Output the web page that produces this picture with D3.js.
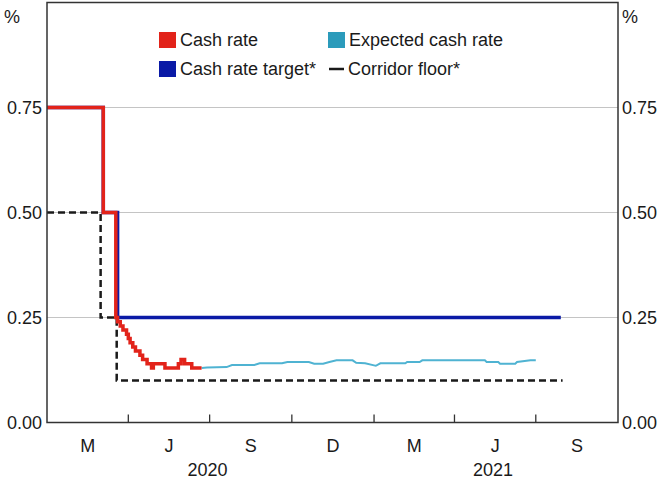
<!DOCTYPE html>
<html>
<head>
<meta charset="utf-8">
<script src="https://cdn.jsdelivr.net/npm/d3@7"></script>
<style>
  html, body { margin: 0; padding: 0; background: #ffffff; }
  svg text { font-family: "Liberation Sans", Arial, sans-serif; fill: #1a1a1a; }
</style>
</head>
<body>
<div id="chart"></div>
<script>
// Cash rate (actual), step series
const cashDates = ['2020-01-01', '2020-03-04', '2020-03-18', '2020-03-20', '2020-03-23', '2020-03-26', '2020-03-30',
  '2020-04-01', '2020-04-03', '2020-04-06', '2020-04-09', '2020-04-14', '2020-04-17', '2020-04-22', '2020-04-27',
  '2020-04-29', '2020-05-12', '2020-05-27', '2020-05-30', '2020-06-03', '2020-06-11', '2020-06-22'];
const cashValues = [0.75, 0.50, 0.25, 0.24, 0.23, 0.22, 0.21,
  0.20, 0.19, 0.18, 0.17, 0.16, 0.15, 0.14, 0.13,
  0.14, 0.13, 0.14, 0.15, 0.14, 0.13, 0.13];

// Expected cash rate
const expDates = ['2020-06-22', '2020-06-28', '2020-07-20', '2020-07-26', '2020-08-20', '2020-08-26', '2020-09-20',
  '2020-09-26', '2020-10-20', '2020-10-26', '2020-11-05', '2020-11-12', '2020-11-20', '2020-12-08', '2020-12-12',
  '2020-12-22', '2021-01-01', '2021-01-03', '2021-01-08', '2021-02-05', '2021-02-07', '2021-02-21', '2021-02-24',
  '2021-05-05', '2021-05-07', '2021-05-20', '2021-05-22', '2021-06-08', '2021-06-10', '2021-06-25', '2021-07-01'];
const expValues = [0.130, 0.131, 0.132, 0.137, 0.137, 0.141, 0.141,
  0.144, 0.144, 0.140, 0.140, 0.144, 0.148, 0.148, 0.142,
  0.141, 0.136, 0.135, 0.141, 0.141, 0.144, 0.144, 0.148,
  0.148, 0.144, 0.144, 0.140, 0.140, 0.144, 0.148, 0.148];

// Cash rate target, step series
const targetDates = ['2020-01-01', '2020-03-04', '2020-03-20', '2021-07-29'];
const targetValues = [0.75, 0.50, 0.25, 0.25];

// Corridor floor, step series
const floorDates = ['2020-01-01', '2020-03-01', '2020-03-19', '2021-07-31'];
const floorValues = [0.50, 0.25, 0.10, 0.10];

const yTicks = [0, 0.25, 0.5, 0.75];
const quarterStarts = ['2020-01-01', '2020-04-01', '2020-07-01', '2020-10-01', '2021-01-01', '2021-04-01', '2021-07-01', '2021-10-01'];
const quarterLabels = ['M', 'J', 'S', 'D', 'M', 'J', 'S'];
const years = ['2020', '2021'];

const W = 665, H = 482;
const margin = { top: 2.5, right: 47, bottom: 59, left: 47 };
const parse = d3.timeParse('%Y-%m-%d');

const toPoints = (dates, values) => dates.map((d, i) => ({ date: parse(d), value: values[i] }));
const cash = toPoints(cashDates, cashValues);
const expected = toPoints(expDates, expValues);
const target = toPoints(targetDates, targetValues);
const floor = toPoints(floorDates, floorValues);

const svg = d3.select('#chart').append('svg')
  .attr('width', W)
  .attr('height', H);

const x = d3.scaleTime()
  .domain([parse('2020-01-01'), parse('2021-10-01')])
  .range([margin.left, W - margin.right]);

const y = d3.scaleLinear()
  .domain([0, 1])
  .range([H - margin.bottom - 0.5, margin.top]);

// grid lines
svg.append('g')
  .selectAll('line')
  .data(yTicks.filter(d => d > 0))
  .join('line')
  .attr('x1', x.range()[0])
  .attr('x2', x.range()[1])
  .attr('y1', d => y(d))
  .attr('y2', d => y(d))
  .style('stroke', '#c4c4c4')
  .style('stroke-width', 1.2);

// y tick labels, both sides
svg.append('g')
  .selectAll('text')
  .data(yTicks)
  .join('text')
  .attr('x', x.range()[0] - 5)
  .attr('y', d => y(d))
  .attr('dy', '0.35em')
  .attr('text-anchor', 'end')
  .style('font-size', '18px')
  .text(d => d3.format('.2f')(d));

svg.append('g')
  .selectAll('text')
  .data(yTicks)
  .join('text')
  .attr('x', x.range()[1] + 4)
  .attr('y', d => y(d))
  .attr('dy', '0.35em')
  .attr('text-anchor', 'start')
  .style('font-size', '18px')
  .text(d => d3.format('.2f')(d));

svg.append('text')
  .attr('x', 4).attr('y', 17).attr('dy', '0.35em')
  .style('font-size', '18px').text('%');
svg.append('text')
  .attr('x', x.range()[1] + 4).attr('y', 17).attr('dy', '0.35em')
  .style('font-size', '18px').text('%');

// x axis ticks (inward)
svg.append('g')
  .selectAll('line')
  .data(quarterStarts.slice(1, -1))
  .join('line')
  .attr('x1', d => x(parse(d)))
  .attr('x2', d => x(parse(d)))
  .attr('y1', y(0))
  .attr('y2', y(0) - 8)
  .style('stroke', '#333')
  .style('stroke-width', 1.3);

// quarter labels centred in each quarter
svg.append('g')
  .selectAll('text')
  .data(quarterLabels)
  .join('text')
  .attr('x', (d, i) => (x(parse(quarterStarts[i])) + x(parse(quarterStarts[i + 1]))) / 2)
  .attr('y', 446)
  .attr('dy', '0.35em')
  .attr('text-anchor', 'middle')
  .style('font-size', '18px')
  .text(d => d);

// year labels centred on their visible span
const yearSpans = [[parse('2020-01-01'), parse('2021-01-01')], [parse('2021-01-01'), parse('2021-10-01')]];
svg.append('g')
  .selectAll('text')
  .data(years)
  .join('text')
  .attr('x', (d, i) => (x(yearSpans[i][0]) + x(yearSpans[i][1])) / 2 - 3)
  .attr('y', 470)
  .attr('dy', '0.35em')
  .attr('text-anchor', 'middle')
  .style('font-size', '18px')
  .text(d => d);

// series
const stepLine = d3.line()
  .x(d => x(d.date))
  .y(d => y(d.value))
  .curve(d3.curveStepAfter);

const plainLine = d3.line()
  .x(d => x(d.date))
  .y(d => y(d.value));

svg.append('path')
  .datum(target)
  .attr('d', stepLine)
  .style('fill', 'none')
  .style('stroke', '#0a1aa6')
  .style('stroke-width', 3.5);

svg.append('path')
  .datum(floor)
  .attr('d', stepLine)
  .style('fill', 'none')
  .style('stroke', '#1a1a1a')
  .style('stroke-width', 2.5)
  .style('stroke-dasharray', '7,4');

svg.append('path')
  .datum(expected)
  .attr('d', plainLine)
  .style('fill', 'none')
  .style('stroke', '#4fb3d2')
  .style('stroke-width', 2);

svg.append('path')
  .datum(cash)
  .attr('d', stepLine)
  .style('fill', 'none')
  .style('stroke', '#e2231a')
  .style('stroke-width', 3.5);

// frame
svg.append('rect')
  .attr('x', x.range()[0])
  .attr('y', y(1))
  .attr('width', x.range()[1] - x.range()[0])
  .attr('height', y(0) - y(1))
  .style('fill', 'none')
  .style('stroke', '#333')
  .style('stroke-width', 1.5);

// legend
const legend = svg.append('g').style('font-size', '18px');
const legendItems = [
  { label: 'Cash rate', color: '#e2231a', kind: 'box', lx: 159, ly: 40 },
  { label: 'Expected cash rate', color: '#2b9bbb', kind: 'box', lx: 328, ly: 40 },
  { label: 'Cash rate target*', color: '#0a1aa6', kind: 'box', lx: 159, ly: 69 },
  { label: 'Corridor floor*', color: '#1a1a1a', kind: 'line', lx: 329, ly: 69 }
];
legendItems.forEach(it => {
  if (it.kind === 'box') {
    legend.append('rect')
      .attr('x', it.lx).attr('y', it.ly - 8)
      .attr('width', 17).attr('height', 16)
      .style('fill', it.color);
  } else {
    legend.append('line')
      .attr('x1', it.lx).attr('x2', it.lx + 15)
      .attr('y1', it.ly).attr('y2', it.ly)
      .style('stroke', it.color).style('stroke-width', 2.5);
  }
  legend.append('text')
    .attr('x', it.kind === 'box' ? it.lx + 21 : it.lx + 19)
    .attr('y', it.ly)
    .attr('dy', '0.35em')
    .text(it.label);
});
</script>
</body>
</html>
